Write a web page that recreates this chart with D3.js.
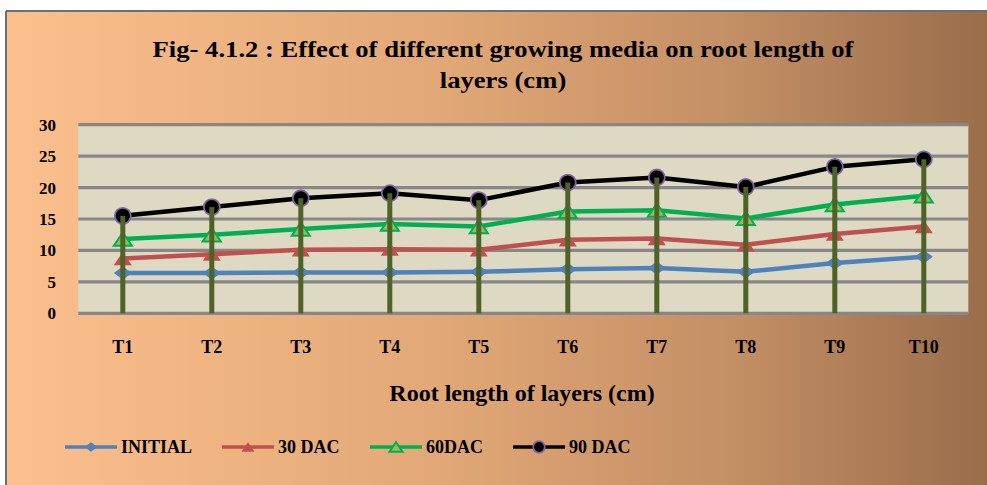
<html>
<script src="https://d3js.org/d3.v7.min.js"></script>
<body style="margin:0">
</body>
</html>

<script type="text/javascript">

// chart data
var categories = ["T1", "T2", "T3", "T4", "T5", "T6", "T7", "T8", "T9", "T10"];
var initial = [6.4, 6.4, 6.5, 6.5, 6.6, 7.0, 7.2, 6.6, 8.0, 9.0];
var dac30 = [8.7, 9.4, 10.1, 10.2, 10.1, 11.7, 11.9, 10.9, 12.6, 13.8];
var dac60 = [11.8, 12.5, 13.4, 14.2, 13.8, 16.2, 16.4, 15.1, 17.3, 18.7];
var dac90 = [15.5, 16.9, 18.3, 19.1, 18.0, 20.8, 21.6, 20.1, 23.3, 24.5];
var yTicks = [0, 5, 10, 15, 20, 25, 30];

var series = [
  {name: "INITIAL", values: initial, color: "#4f81bd", marker: "diamond"},
  {name: "30 DAC", values: dac30, color: "#c0504d", marker: "tri"},
  {name: "60DAC", values: dac60, color: "#00b050", marker: "triOpen"},
  {name: "90 DAC", values: dac90, color: "#000000", marker: "circle"}
];

var W = 987, H = 485;
var font = "'Liberation Serif', 'Times New Roman', serif";

var svg = d3.select("body")
  .append("svg")
  .attr("width", W)
  .attr("height", H);

// background gradient
var grad = svg.append("defs").append("linearGradient")
  .attr("id", "bg")
  .attr("x1", "0%").attr("x2", "100%").attr("y1", "0%").attr("y2", "0%");
grad.append("stop").attr("offset", "0%").attr("stop-color", "#fbc08d");
grad.append("stop").attr("offset", "45%").attr("stop-color", "#e1a776");
grad.append("stop").attr("offset", "75%").attr("stop-color", "#c28e64");
grad.append("stop").attr("offset", "100%").attr("stop-color", "#9a6d4b");

svg.append("rect")
  .attr("x", 0).attr("y", 0).attr("width", W).attr("height", H)
  .attr("fill", "#fff");
svg.append("rect")
  .attr("x", 6).attr("y", 11).attr("width", W - 6).attr("height", H - 11)
  .attr("fill", "url(#bg)");
// frame
svg.append("line").attr("x1", 6).attr("x2", W).attr("y1", 11).attr("y2", 11)
  .attr("stroke", "#6f6f6f").attr("stroke-width", 2);
svg.append("line").attr("x1", 6).attr("x2", 6).attr("y1", 11).attr("y2", H)
  .attr("stroke", "#6f6f6f").attr("stroke-width", 2);

var pLeft = 78.3, pRight = 968.3, pTop = 124.7, pBottom = 313.3;

var x = d3.scaleBand()
  .domain(categories)
  .range([pLeft, pRight]);

var y = d3.scaleLinear()
  .domain([0, 30])
  .range([pBottom, pTop]);

function cx(d, i) { return x(categories[i]) + x.bandwidth() / 2; }

// plot area
svg.append("rect")
  .attr("x", pLeft).attr("y", pTop)
  .attr("width", pRight - pLeft).attr("height", pBottom - pTop)
  .attr("fill", "#ddd9c3");

svg.append("g").selectAll("line").data(yTicks)
  .enter().append("line")
  .attr("x1", pLeft).attr("x2", pRight)
  .attr("y1", function(d) { return y(d); })
  .attr("y2", function(d) { return y(d); })
  .attr("stroke", "#878787")
  .attr("stroke-width", 3.2);

// y axis labels
svg.append("g").selectAll("text").data(yTicks)
  .enter().append("text")
  .attr("x", 56)
  .attr("y", function(d) { return y(d); })
  .attr("dy", "0.35em")
  .attr("text-anchor", "end")
  .attr("font-family", font)
  .attr("font-weight", "bold")
  .attr("font-size", 17)
  .text(function(d) { return d; });

// x axis labels
svg.append("g").selectAll("text").data(categories)
  .enter().append("text")
  .attr("x", function(d) { return x(d) + x.bandwidth() / 2; })
  .attr("y", 347)
  .attr("dy", "0.35em")
  .attr("text-anchor", "middle")
  .attr("font-family", font)
  .attr("font-weight", "bold")
  .attr("font-size", 18)
  .text(function(d) { return d; });

// lines
var line = d3.line()
  .x(function(d, i) { return cx(d, i); })
  .y(function(d) { return y(d); });

// s = marker width in px
function drawMarker(g, type, color, px, py, s) {
  var w = s / 2, h = s * 0.37;
  var at = "translate(" + px + "," + py + ")";
  if (type === "diamond") {
    g.append("path")
      .attr("d", "M" + (-w) + ",0L0," + (-h) + "L" + w + ",0L0," + h + "Z")
      .attr("transform", at)
      .attr("fill", color);
  } else if (type === "tri" || type === "triOpen") {
    var p = g.append("path")
      .attr("d", "M" + (-w) + "," + h + "L0," + (-h) + "L" + w + "," + h + "Z")
      .attr("transform", at);
    if (type === "tri") {
      p.attr("fill", color);
    } else {
      p.attr("fill", "#9bbb59").attr("stroke", color).attr("stroke-width", 2);
    }
  } else {
    g.append("circle")
      .attr("cx", px).attr("cy", py).attr("r", s / 2.25)
      .attr("fill", "#000")
      .attr("stroke", "#8064a2")
      .attr("stroke-width", 1.8);
  }
}

series.forEach(function(s) {
  var g = svg.append("g");
  g.append("path")
    .datum(s.values)
    .attr("d", line)
    .attr("fill", "none")
    .attr("stroke", s.color)
    .attr("stroke-width", 4.5)
    .attr("stroke-linejoin", "round");
  s.values.forEach(function(v, i) {
    drawMarker(g, s.marker, s.color, cx(v, i), y(v), 18);
  });
});

// olive drop lines from 0 to top series
svg.append("g").selectAll("line").data(dac90)
  .enter().append("line")
  .attr("x1", cx).attr("x2", cx)
  .attr("y1", y(0))
  .attr("y2", function(d) { return y(d); })
  .attr("stroke", "#4f6228")
  .attr("stroke-width", 5);

// titles (stretched horizontally like the source)
var tg = svg.append("g");
var title = tg.append("text")
  .attr("text-anchor", "middle")
  .attr("font-family", font)
  .attr("font-weight", "bold")
  .attr("font-size", 24);
var t1 = title.append("tspan").attr("x", 0).attr("y", 57)
  .text("Fig- 4.1.2 : Effect of different growing media on root length of");
title.append("tspan").attr("x", 0).attr("y", 88)
  .text("layers (cm)");
var sx = 701 / t1.node().getComputedTextLength();
tg.attr("transform", "translate(503,0) scale(" + sx + ",1)");

svg.append("text")
  .attr("x", 522).attr("y", 401)
  .attr("text-anchor", "middle")
  .attr("font-family", font)
  .attr("font-weight", "bold")
  .attr("font-size", 24)
  .text("Root length of layers (cm)");

// legend
var legendX = [65, 222, 370, 513];
series.forEach(function(s, i) {
  var g = svg.append("g").attr("transform", "translate(" + legendX[i] + ",447)");
  g.append("line").attr("x1", 0).attr("x2", 52).attr("y1", 0).attr("y2", 0)
    .attr("stroke", s.color).attr("stroke-width", 3.5);
  drawMarker(g, s.marker, s.color, 26, 0, 13);
  g.append("text")
    .attr("x", 56).attr("y", 0).attr("dy", "0.35em")
    .attr("font-family", font)
    .attr("font-weight", "bold")
    .attr("font-size", 18)
    .text(s.name);
});
</script>
